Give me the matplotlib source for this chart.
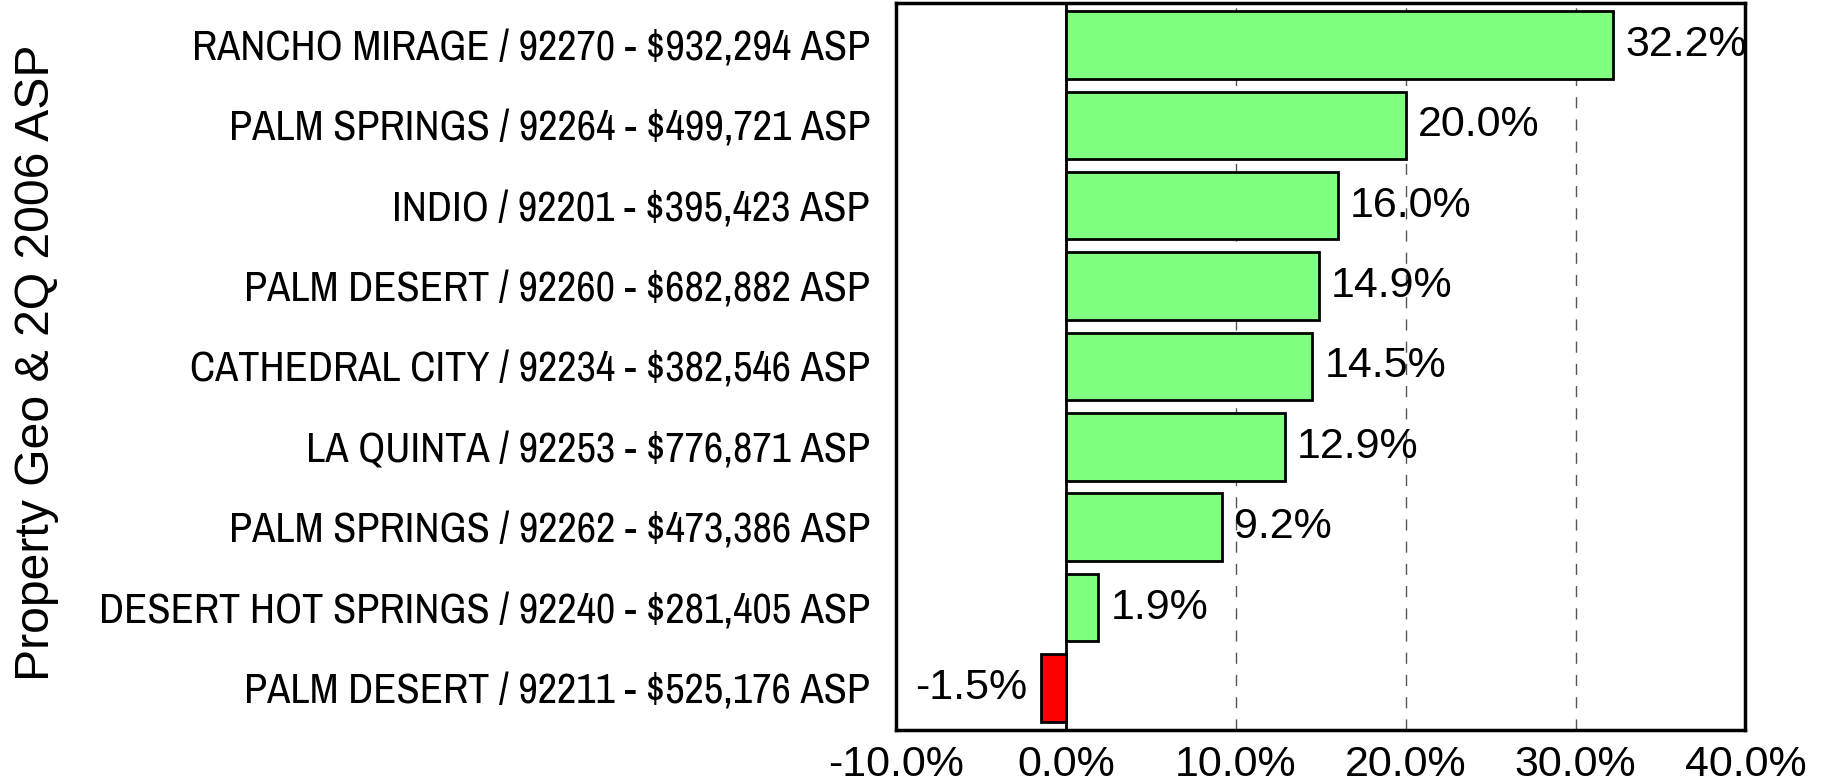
import matplotlib
matplotlib.use("Agg")
import matplotlib.pyplot as plt
from matplotlib.ticker import FuncFormatter

labels = [
    "RANCHO MIRAGE / 92270 - $932,294 ASP",
    "PALM SPRINGS / 92264 - $499,721 ASP",
    "INDIO / 92201 - $395,423 ASP",
    "PALM DESERT / 92260 - $682,882 ASP",
    "CATHEDRAL CITY / 92234 - $382,546 ASP",
    "LA QUINTA / 92253 - $776,871 ASP",
    "PALM SPRINGS / 92262 - $473,386 ASP",
    "DESERT HOT SPRINGS / 92240 - $281,405 ASP",
    "PALM DESERT / 92211 - $525,176 ASP",
]
values = [32.2, 20.0, 16.0, 14.9, 14.5, 12.9, 9.2, 1.9, -1.5]
xticks = [-10, 0, 10, 20, 30, 40]

narrow = ["Archivo Narrow", "Liberation Sans", "DejaVu Sans"]
arial = ["Liberation Sans", "DejaVu Sans"]

fig = plt.figure(figsize=(18.22, 7.83), dpi=100)
ax = fig.add_axes([0.492, 0.068, 0.466, 0.928])

ypos = list(range(len(values)))[::-1]
colors = ["#80ff80" if v >= 0 else "#ff0000" for v in values]
ax.barh(ypos, values, height=0.84, color=colors, edgecolor="black", linewidth=2, zorder=3)

# value labels next to each bar
for y, v in zip(ypos, values):
    if v >= 0:
        ax.text(v + 0.7, y, "%.1f%%" % v, va="center", ha="left", fontsize=31, family=arial, zorder=4)
    else:
        ax.text(v - 0.8, y, "%.1f%%" % v, va="center", ha="right", fontsize=31, family=arial, zorder=4)

ax.axvline(0, color="black", linewidth=2, zorder=2)
ax.set_xlim(-10, 40)
ax.set_ylim(-0.52, 8.52)
ax.set_xticks(xticks)
ax.xaxis.set_major_formatter(FuncFormatter(lambda x, p: "%.1f%%" % x))
ax.set_yticks(ypos)
ax.set_yticklabels(labels)
ax.tick_params(length=0)
ax.tick_params(axis="y", pad=19)
ax.tick_params(axis="x", pad=11)
for t in ax.get_yticklabels():
    t.set_fontsize(30.5)
    t.set_family(narrow)
for t in ax.get_xticklabels():
    t.set_fontsize(31)
    t.set_family(arial)

ax.grid(axis="x", linestyle=(0, (8, 8)), color="#555555", linewidth=1, zorder=1)
for s in ax.spines.values():
    s.set_linewidth(2.5)

fig.text(0.02, 0.537, "Property Geo & 2Q 2006 ASP", rotation=90, va="center", ha="center",
         fontsize=34.7, family=arial)

fig.savefig("out.png", dpi=100)
